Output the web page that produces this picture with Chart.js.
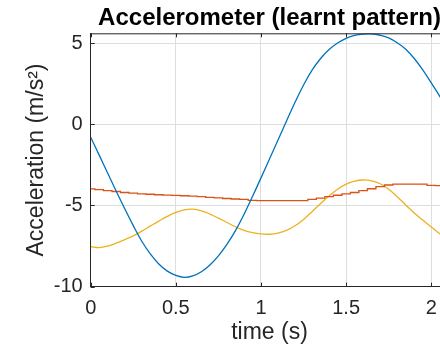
<!DOCTYPE html>
<html>
<head>
<meta charset="utf-8">
<script src="https://cdn.jsdelivr.net/npm/chart.js@4/dist/chart.umd.min.js"></script>
<style>
  html, body { margin: 0; padding: 0; background: #fff; overflow: hidden; width: 440px; height: 352px; }
  #wrap { position: absolute; left: 0; top: 0; width: 460px; height: 352px; }
</style>
</head>
<body>
<div id="wrap"><canvas id="c" width="460" height="352"></canvas></div>
<script>
// Sample times (s)
const timeS = [0, 0.05, 0.1, 0.15, 0.2, 0.25, 0.3, 0.35, 0.4, 0.45, 0.5, 0.55, 0.6, 0.65, 0.7,
  0.75, 0.8, 0.85, 0.9, 0.95, 1.0, 1.05, 1.1, 1.15, 1.2, 1.25, 1.3, 1.35, 1.4, 1.45, 1.5,
  1.55, 1.6, 1.65, 1.7, 1.75, 1.8, 1.85, 1.9, 1.95, 2.0, 2.05, 2.1];

// Learnt acceleration pattern per axis (m/s^2)
const accX = [-0.8, -1.9, -3.02, -4.12, -5.2, -6.24, -7.2, -7.98, -8.6, -9.04, -9.3, -9.42, -9.33, -9.08, -8.66,
  -8.1, -7.4, -6.55, -5.55, -4.45, -3.3, -2.14, -0.97, 0.2, 1.35, 2.42, 3.33, 4.05, 4.6, 5.0, 5.29,
  5.47, 5.55, 5.56, 5.48, 5.32, 5.02, 4.62, 4.05, 3.35, 2.55, 1.72, 0.88];
const accY = [-3.98, -4.02, -4.08, -4.14, -4.2, -4.24, -4.28, -4.31, -4.34, -4.36, -4.38, -4.4, -4.42, -4.46, -4.5,
  -4.53, -4.57, -4.6, -4.63, -4.68, -4.7, -4.7, -4.7, -4.7, -4.7, -4.7, -4.63, -4.55, -4.46, -4.37, -4.29,
  -4.2, -4.08, -3.97, -3.84, -3.74, -3.69, -3.69, -3.69, -3.69, -3.76, -3.78, -3.78];
const accZ = [-7.53, -7.59, -7.5, -7.32, -7.1, -6.87, -6.58, -6.27, -5.96, -5.67, -5.43, -5.27, -5.23, -5.33, -5.53,
  -5.78, -6.05, -6.31, -6.53, -6.67, -6.75, -6.77, -6.7, -6.53, -6.25, -5.86, -5.38, -4.88, -4.41, -4.0, -3.69,
  -3.5, -3.43, -3.48, -3.66, -4.0, -4.46, -4.97, -5.46, -5.9, -6.32, -6.74, -7.12];

// Axis ticks
const xTicks = [0, 0.5, 1, 1.5, 2];
const yTicks = [-10, -5, 0, 5];

const FONT = "'Liberation Sans', Arial, Helvetica, sans-serif";
const AXIS_COLOR = '#262626';

const pts = ys => timeS.map((t, i) => ({ x: t, y: ys[i] }));

// Box outline on top plus short inward tick marks
const boxTicks = {
  id: 'boxTicks',
  afterDraw(chart) {
    const { ctx, chartArea: a, scales: { x, y } } = chart;
    ctx.save();
    ctx.strokeStyle = AXIS_COLOR;
    ctx.lineWidth = 1;
    ctx.beginPath();
    ctx.moveTo(a.left, a.top + 0.5);
    ctx.lineTo(a.right, a.top + 0.5);
    ctx.moveTo(a.right - 0.5, a.top);
    ctx.lineTo(a.right - 0.5, a.bottom);
    x.ticks.forEach(t => {
      const px = Math.round(x.getPixelForValue(t.value)) + 0.5;
      ctx.moveTo(px, a.bottom); ctx.lineTo(px, a.bottom - 4);
      ctx.moveTo(px, a.top); ctx.lineTo(px, a.top + 4);
    });
    y.ticks.forEach(t => {
      const py = Math.round(y.getPixelForValue(t.value)) + 0.5;
      ctx.moveTo(a.left, py); ctx.lineTo(a.left + 4, py);
    });
    ctx.stroke();
    ctx.restore();
  }
};

new Chart(document.getElementById('c'), {
  type: 'line',
  data: {
    datasets: [
      { label: 'x', data: pts(accX), borderColor: '#0072BD', borderWidth: 1.3, pointRadius: 0, tension: 0.4 },
      { label: 'y', data: pts(accY), borderColor: '#D95319', borderWidth: 1.3, pointRadius: 0, stepped: 'middle' },
      { label: 'z', data: pts(accZ), borderColor: '#EDB120', borderWidth: 1.3, pointRadius: 0, tension: 0.4 }
    ]
  },
  options: {
    responsive: false,
    animation: false,
    devicePixelRatio: 1,
    layout: { padding: { left: 0, right: 11.7, top: 0, bottom: 0 } },
    plugins: {
      legend: { display: false },
      tooltip: { enabled: false },
      title: {
        display: true,
        text: 'Accelerometer (learnt pattern)',
        fullSize: false,
        color: '#000',
        font: { family: FONT, size: 24, weight: 'bold', lineHeight: 1.2 },
        padding: { top: 4, bottom: 0.5 }
      }
    },
    scales: {
      x: {
        type: 'linear',
        min: 0,
        max: 2.1,
        afterBuildTicks: s => { s.ticks = xTicks.map(v => ({ value: v })); },
        afterFit: s => { s.height = 65.3; },
        grid: { color: '#dedede', lineWidth: 1, drawTicks: false },
        border: { color: AXIS_COLOR, width: 1 },
        ticks: {
          color: AXIS_COLOR, padding: 10, maxRotation: 0,
          font: { family: FONT, size: 20 },
          callback: v => String(v)
        },
        title: {
          display: true, text: 'time (s)', color: AXIS_COLOR,
          font: { family: FONT, size: 23, lineHeight: 1.2 },
          padding: { top: 0, bottom: 6 }
        }
      },
      y: {
        type: 'linear',
        min: -10,
        max: 5.6,
        afterBuildTicks: s => { s.ticks = yTicks.map(v => ({ value: v })); },
        afterFit: s => { s.width = 90.7; },
        grid: { color: '#dedede', lineWidth: 1, drawTicks: false },
        border: { color: AXIS_COLOR, width: 1 },
        ticks: {
          color: AXIS_COLOR, padding: 8,
          font: { family: FONT, size: 20 },
          callback: v => String(v)
        },
        title: {
          display: true, text: 'Acceleration (m/s²)', color: AXIS_COLOR,
          font: { family: FONT, size: 23, lineHeight: 1.2 },
          padding: { top: 23, bottom: 0 }
        }
      }
    }
  },
  plugins: [boxTicks]
});
</script>
</body>
</html>
